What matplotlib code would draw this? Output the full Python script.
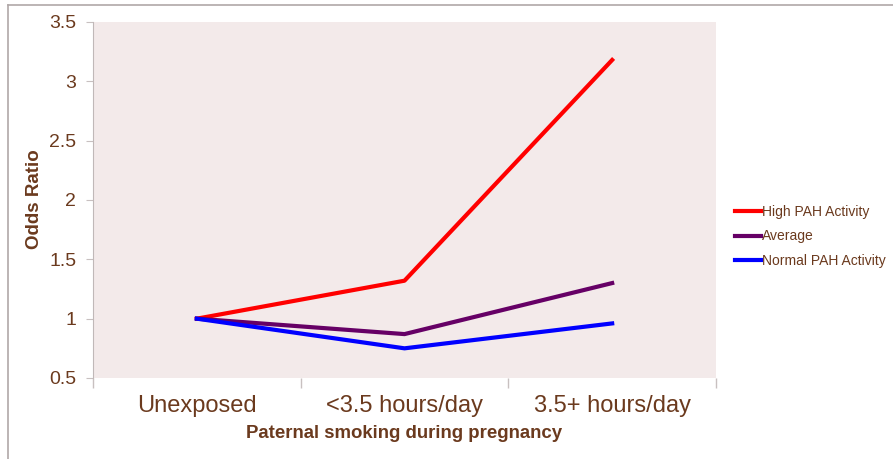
import matplotlib
matplotlib.use('Agg')
from matplotlib import pyplot as plt
from matplotlib.lines import Line2D

categories = ['Unexposed', '<3.5 hours/day', '3.5+ hours/day']
high_pah = [1.0, 1.32, 3.18]
average = [1.0, 0.87, 1.30]
normal_pah = [1.0, 0.75, 0.96]
yticks = [0.5, 1, 1.5, 2, 2.5, 3, 3.5]

plt.rcParams['font.family'] = ['Liberation Sans', 'DejaVu Sans']
brown = '#6B3A1E'
W, H = 893, 459

fig = plt.figure(figsize=(W / 100, H / 100), dpi=100)
ax = fig.add_axes([93 / W, 1 - 378 / H, (716 - 93) / W, (378 - 22) / H])
ax.set_facecolor('#F3EAEA')

x = range(len(categories))
ax.plot(x, high_pah, color='#FF0000', lw=3, label='High PAH Activity')
ax.plot(x, average, color='#660066', lw=3, label='Average')
ax.plot(x, normal_pah, color='#0000FF', lw=3, label='Normal PAH Activity')

ax.set_xlim(-0.5, 2.5)
ax.set_ylim(0.5, 3.5)
ax.set_yticks(yticks)
ax.set_yticklabels([f'{v:g}' for v in yticks])
ax.set_xticks([-0.5, 0.5, 1.5, 2.5])
ax.set_xticklabels([])
ax.set_xticks(list(x), minor=True)
ax.set_xticklabels(categories, minor=True)
ax.tick_params(axis='x', which='major', length=7, color='#C8C0C0', width=1)
ax.tick_params(axis='x', which='minor', length=0, pad=12, labelsize=17, labelcolor=brown)
ax.tick_params(axis='y', length=5, color='#C8C0C0', labelsize=14, labelcolor=brown, pad=7)

for s in ['top', 'right', 'bottom']:
    ax.spines[s].set_visible(False)
ax.spines['left'].set_color('#C0B8B8')
ax.spines['left'].set_bounds(0.5, 3.5)

ax.set_ylabel('Odds Ratio', fontsize=13.5, fontweight='bold', color=brown)
ax.yaxis.set_label_coords((43 - 93) / (716 - 93), (378 - 199) / (378 - 22))
ax.set_xlabel('Paternal smoking during pregnancy', fontsize=13.4, fontweight='bold',
              color=brown, labelpad=6)

leg = ax.legend(loc='upper left', bbox_to_anchor=(735 / W, 1 - 205 / H),
                bbox_transform=fig.transFigure, frameon=False, fontsize=10,
                handlelength=1.9, handletextpad=0.05, labelspacing=0.75,
                borderaxespad=0, borderpad=0)
for t in leg.get_texts():
    t.set_color(brown)

# screenshot frame lines (top and left)
fig.add_artist(Line2D([8 / W, 1], [1 - 4.5 / H, 1 - 4.5 / H], color='#B0A8A8', lw=1.2,
                      transform=fig.transFigure))
fig.add_artist(Line2D([8 / W, 8 / W], [0, 1 - 4.5 / H], color='#B0A8A8', lw=1.2,
                      transform=fig.transFigure))

fig.savefig('out.png', dpi=100)
